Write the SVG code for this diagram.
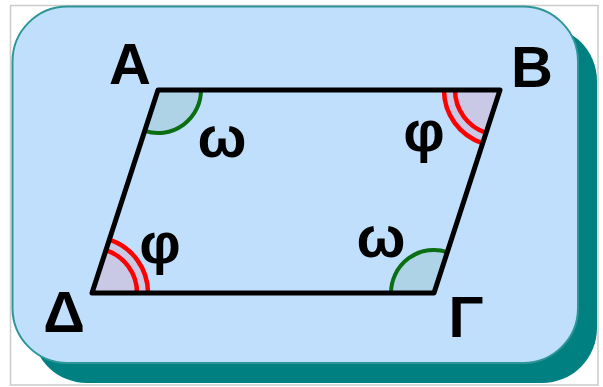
<svg xmlns="http://www.w3.org/2000/svg" width="603" height="387" viewBox="0 0 603 387">
  <style>
    .lbl { font-family: "Liberation Sans", Arial, sans-serif; font-weight: bold; font-size: 58px; fill: #000; text-anchor: middle; }
    .wedgeG { fill: #aed3e6; stroke: none; }
    .wedgeR { fill: #c9c9e6; stroke: none; }
    .arcG { fill: none; stroke: #0b6e12; stroke-width: 4; }
    .arcR { fill: none; stroke: #ff0000; stroke-width: 4.5; }
  </style>
  <g id="frame">
    <rect x="10.5" y="5.5" width="587.5" height="379.5" fill="#ffffff" stroke="#cccccc" stroke-width="1.5"/>
    <rect x="32" y="26" width="565" height="357" rx="55" ry="55" fill="#008080"/>
    <rect x="12.5" y="6.5" width="565.5" height="356.5" rx="55" ry="55" fill="#c0dffc" stroke="#2e9696" stroke-width="2"/>
  </g>
  <g id="angles">
    <path class="wedgeG" d="M158,90 L201,90 A43,43 0 0 1 144.7,130.9 Z"/>
    <path class="wedgeG" d="M434,293 L391,293 A43,43 0 0 1 447.3,252.1 Z"/>
    <path class="wedgeR" d="M500,90 L482.7,143.3 A56,56 0 0 1 444,90 Z"/>
    <path class="wedgeR" d="M92,293 L109.3,239.7 A56,56 0 0 1 148,293 Z"/>
    <path class="arcG" d="M201,90 A43,43 0 0 1 144.7,130.9"/>
    <path class="arcG" d="M391,293 A43,43 0 0 1 447.3,252.1"/>
    <path class="arcR" d="M482.7,143.3 A56,56 0 0 1 444,90"/>
    <path class="arcR" d="M486.1,132.8 A45,45 0 0 1 455,90"/>
    <path class="arcR" d="M109.3,239.7 A56,56 0 0 1 148,293"/>
    <path class="arcR" d="M105.9,250.2 A45,45 0 0 1 137,293"/>
  </g>
  <g id="parallelogram">
    <polygon points="158,90 500,90 434,293 92,293" fill="none" stroke="#000000" stroke-width="5" stroke-linejoin="round"/>
  </g>
  <g id="labels">
    <text class="lbl" x="130" y="84">A</text>
    <text class="lbl" x="532" y="87">B</text>
    <text class="lbl" x="466" y="337">Γ</text>
    <text class="lbl" x="64" y="332">Δ</text>
    <text class="lbl" x="222" y="157">ω</text>
    <text class="lbl" x="424" y="151">φ</text>
    <text class="lbl" x="160" y="263">φ</text>
    <text class="lbl" x="381" y="257">ω</text>
  </g>
</svg>
